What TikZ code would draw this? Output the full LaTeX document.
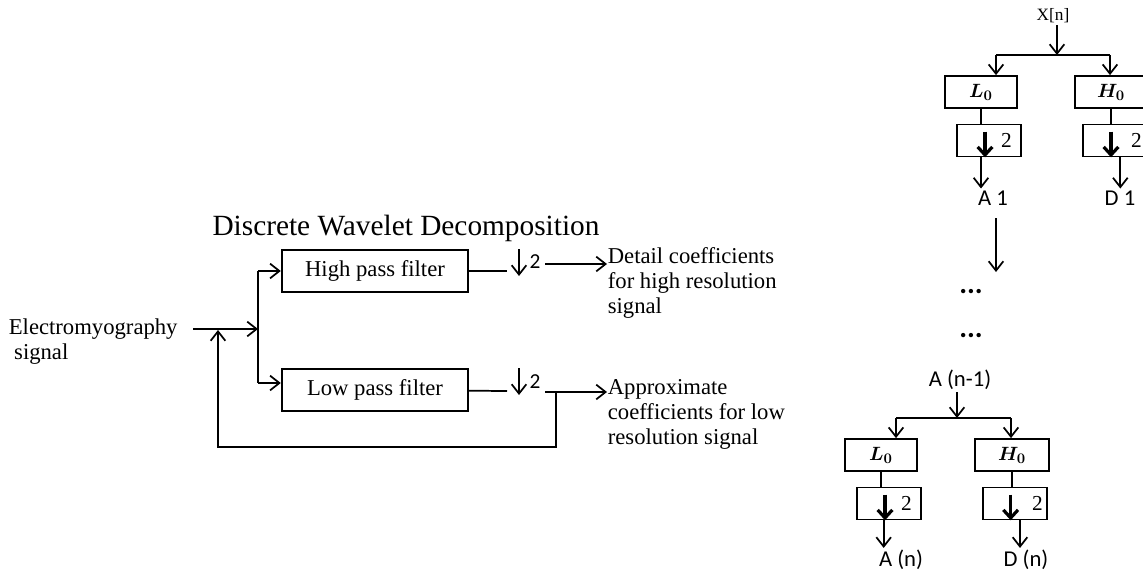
\documentclass[tikz,border=0pt]{standalone}
\usepackage{fontspec}
\setmainfont{Liberation Serif}
\newfontfamily\calibfont{Carlito}
\usepackage{amsmath,amssymb}
\usetikzlibrary{positioning,calc,arrows.meta}

\tikzset{
  arr/.style={-{Straight Barb[length=7pt,width=11pt]}},
  boldarr/.style={line width=2.4pt,-{Straight Barb[length=6pt,width=11pt]}},
  filterbox/.style={draw,minimum width=140pt,minimum height=31.5pt,font=\fontsize{17}{20}\selectfont},
  hlbox/.style={draw,minimum width=54pt,minimum height=24pt,inner sep=0pt,font=\fontsize{15}{17}\selectfont\boldmath},
  dsbox/.style={draw,minimum width=48pt,minimum height=24pt,inner sep=0pt},
  desc/.style={align=left,anchor=west,inner sep=0pt,font=\fontsize{17}{18.75}\selectfont},
  sanslbl/.style={inner sep=1pt,font=\calibfont\fontsize{17}{19}\selectfont},
  dotlbl/.style={inner sep=0pt,font=\calibfont\bfseries\fontsize{22}{24}\selectfont},
  twolbl/.style={inner sep=0pt,font=\calibfont\fontsize{16}{18}\selectfont},
  numlbl/.style={inner sep=0pt,font=\fontsize{16}{18}\selectfont},
}

\begin{document}
\begin{tikzpicture}[x=0.75pt,y=-0.75pt,line width=1.3pt]
\useasboundingbox (0,0) rectangle (1143,575);

% ---- left: decomposition scheme
\node[font=\fontsize{22}{26}\selectfont] (title) at (406,228) {Discrete Wavelet Decomposition};
\node[desc] (emg) at (8,342) {Electromyography\\\hspace{4pt}signal};
\coordinate (emgout) at (193,329);
\coordinate (jin) at (258,329);
\coordinate (jhi) at (258,271);
\coordinate (jlo) at (258,383);
\node[filterbox] (hpf) at (375,271) {High pass filter};
\node[filterbox] (lpf) at (375,390) {Low pass filter};
\draw[arr] (emgout) -- (jin);
\draw (jhi) -- (jlo);
\draw[arr] (jhi) -- (hpf);
\draw[arr] (jlo) -- (jlo -| lpf.west);

% downsampling by 2
\coordinate (cutH) at (507,271);
\coordinate (cutL) at (507,391);
\coordinate (dnH) at (519,249);
\coordinate (dnL) at (519,368);
\node[twolbl] (twoH) at (535,262) {2};
\node[twolbl] (twoL) at (535,382) {2};
\draw (hpf) -- (cutH);
\draw (lpf) -- (cutL);
\draw[arr] (dnH) -- ++(0,27);
\draw[arr] (dnL) -- ++(0,27);

\coordinate (outH) at (545,264);
\coordinate (outL) at (545,392);
\node[desc] (detail) at (607,283) {Detail coefficients\\for high resolution\\signal};
\node[desc] (approx) at (607,414) {Approximate\\coefficients for low\\resolution signal};
\draw[arr] (outH) -- (outH -| detail.west);
\draw[arr] (outL) -- (outL -| approx.west);

% feedback of the approximation
\coordinate (fbk) at (556,392);
\coordinate (fbc) at (218,447);
\coordinate (fbin) at (218,330);
\draw[arr] (fbk) |- (fbc) -- (fbin);

% ---- right: filter bank, first stage
\begin{scope}[shift={(100,-363)}]
\node[inner sep=1pt,font=\fontsize{13}{14}\selectfont] (inT) at (953,379) {X[n]};
\coordinate (spT) at (957,418);
\coordinate (spLT) at (896,418);
\coordinate (spRT) at (1010,418);
\node[hlbox] (loT) at (881,455) {$L_0$};
\node[hlbox] (hiT) at (1011,455) {$H_0$};
\node[dsbox,below=11pt of loT,xshift=6pt] (dsLT) {};
\node[dsbox,below=11pt of hiT,xshift=3pt] (dsRT) {};
\node[numlbl] (twoLT) at ([xshift=13pt]dsLT.center) {2};
\node[numlbl] (twoRT) at ([xshift=16pt]dsRT.center) {2};
\node[sanslbl] (outLT) at (893,561) {A 1};
\node[sanslbl] (outRT) at (1020,561) {D 1};
\draw[arr] (inT.south -| spT) -- (spT);
\draw (spLT) -- (spRT);
\draw[arr] (spLT) -- (spLT |- loT.north);
\draw[arr] (spRT) -- (spRT |- hiT.north);
\draw (loT) -- (loT |- dsLT.north);
\draw (hiT) -- (hiT |- dsRT.north);
\draw[boldarr] ([xshift=-3pt,yshift=-6pt]dsLT.north) -- ([xshift=-3pt]dsLT.south);
\draw[boldarr] ([xshift=-3pt,yshift=-6pt]dsRT.north) -- ([xshift=-3pt]dsRT.south);
\draw[arr] ([xshift=-6pt]dsLT.south) -- ([xshift=-6pt]dsLT.south |- outLT.north);
\draw[arr] ([xshift=4pt]dsRT.south) -- ([xshift=4pt]dsRT.south |- outRT.north);
\end{scope}

% intermediate levels
\coordinate (gapT) at (996,218);
\coordinate (gapB) at (996,272);
\draw[arr] (gapT) -- (gapB);
\node[dotlbl] (dots1) at (971,292) {...};
\node[dotlbl] (dots2) at (971,336) {...};

% ---- right: last stage
\node[sanslbl] (inB) at (960,380) {A (n-1)};
\coordinate (spB) at (957,418);
\coordinate (spLB) at (896,418);
\coordinate (spRB) at (1011,418);
\node[hlbox] (loB) at (881,455) {$L_0$};
\node[hlbox,minimum width=56pt] (hiB) at (1012,455) {$H_0$};
\node[dsbox,below=11pt of loB,xshift=6pt] (dsLB) {};
\node[dsbox,below=11pt of hiB,xshift=2pt] (dsRB) {};
\node[numlbl] (twoLB) at ([xshift=13pt]dsLB.center) {2};
\node[numlbl] (twoRB) at ([xshift=17pt]dsRB.center) {2};
\node[sanslbl] (outLB) at (901,560) {A (n)};
\node[sanslbl] (outRB) at (1026,560) {D (n)};
\draw[arr] (inB.south -| spB) -- (spB);
\draw (spLB) -- (spRB);
\draw[arr] (spLB) -- (spLB |- loB.north);
\draw[arr] (spRB) -- (spRB |- hiB.north);
\draw (loB) -- (loB |- dsLB.north);
\draw (hiB) -- (hiB |- dsRB.north);
\draw[boldarr] ([xshift=-3pt,yshift=-6pt]dsLB.north) -- ([xshift=-3pt]dsLB.south);
\draw[boldarr] ([xshift=-3pt,yshift=-6pt]dsRB.north) -- ([xshift=-3pt]dsRB.south);
\draw[arr] ([xshift=-4pt]dsLB.south) -- ([xshift=-4pt]dsLB.south |- outLB.north);
\draw[arr] ([xshift=4pt]dsRB.south) -- ([xshift=4pt]dsRB.south |- outRB.north);
\end{tikzpicture}
\end{document}
